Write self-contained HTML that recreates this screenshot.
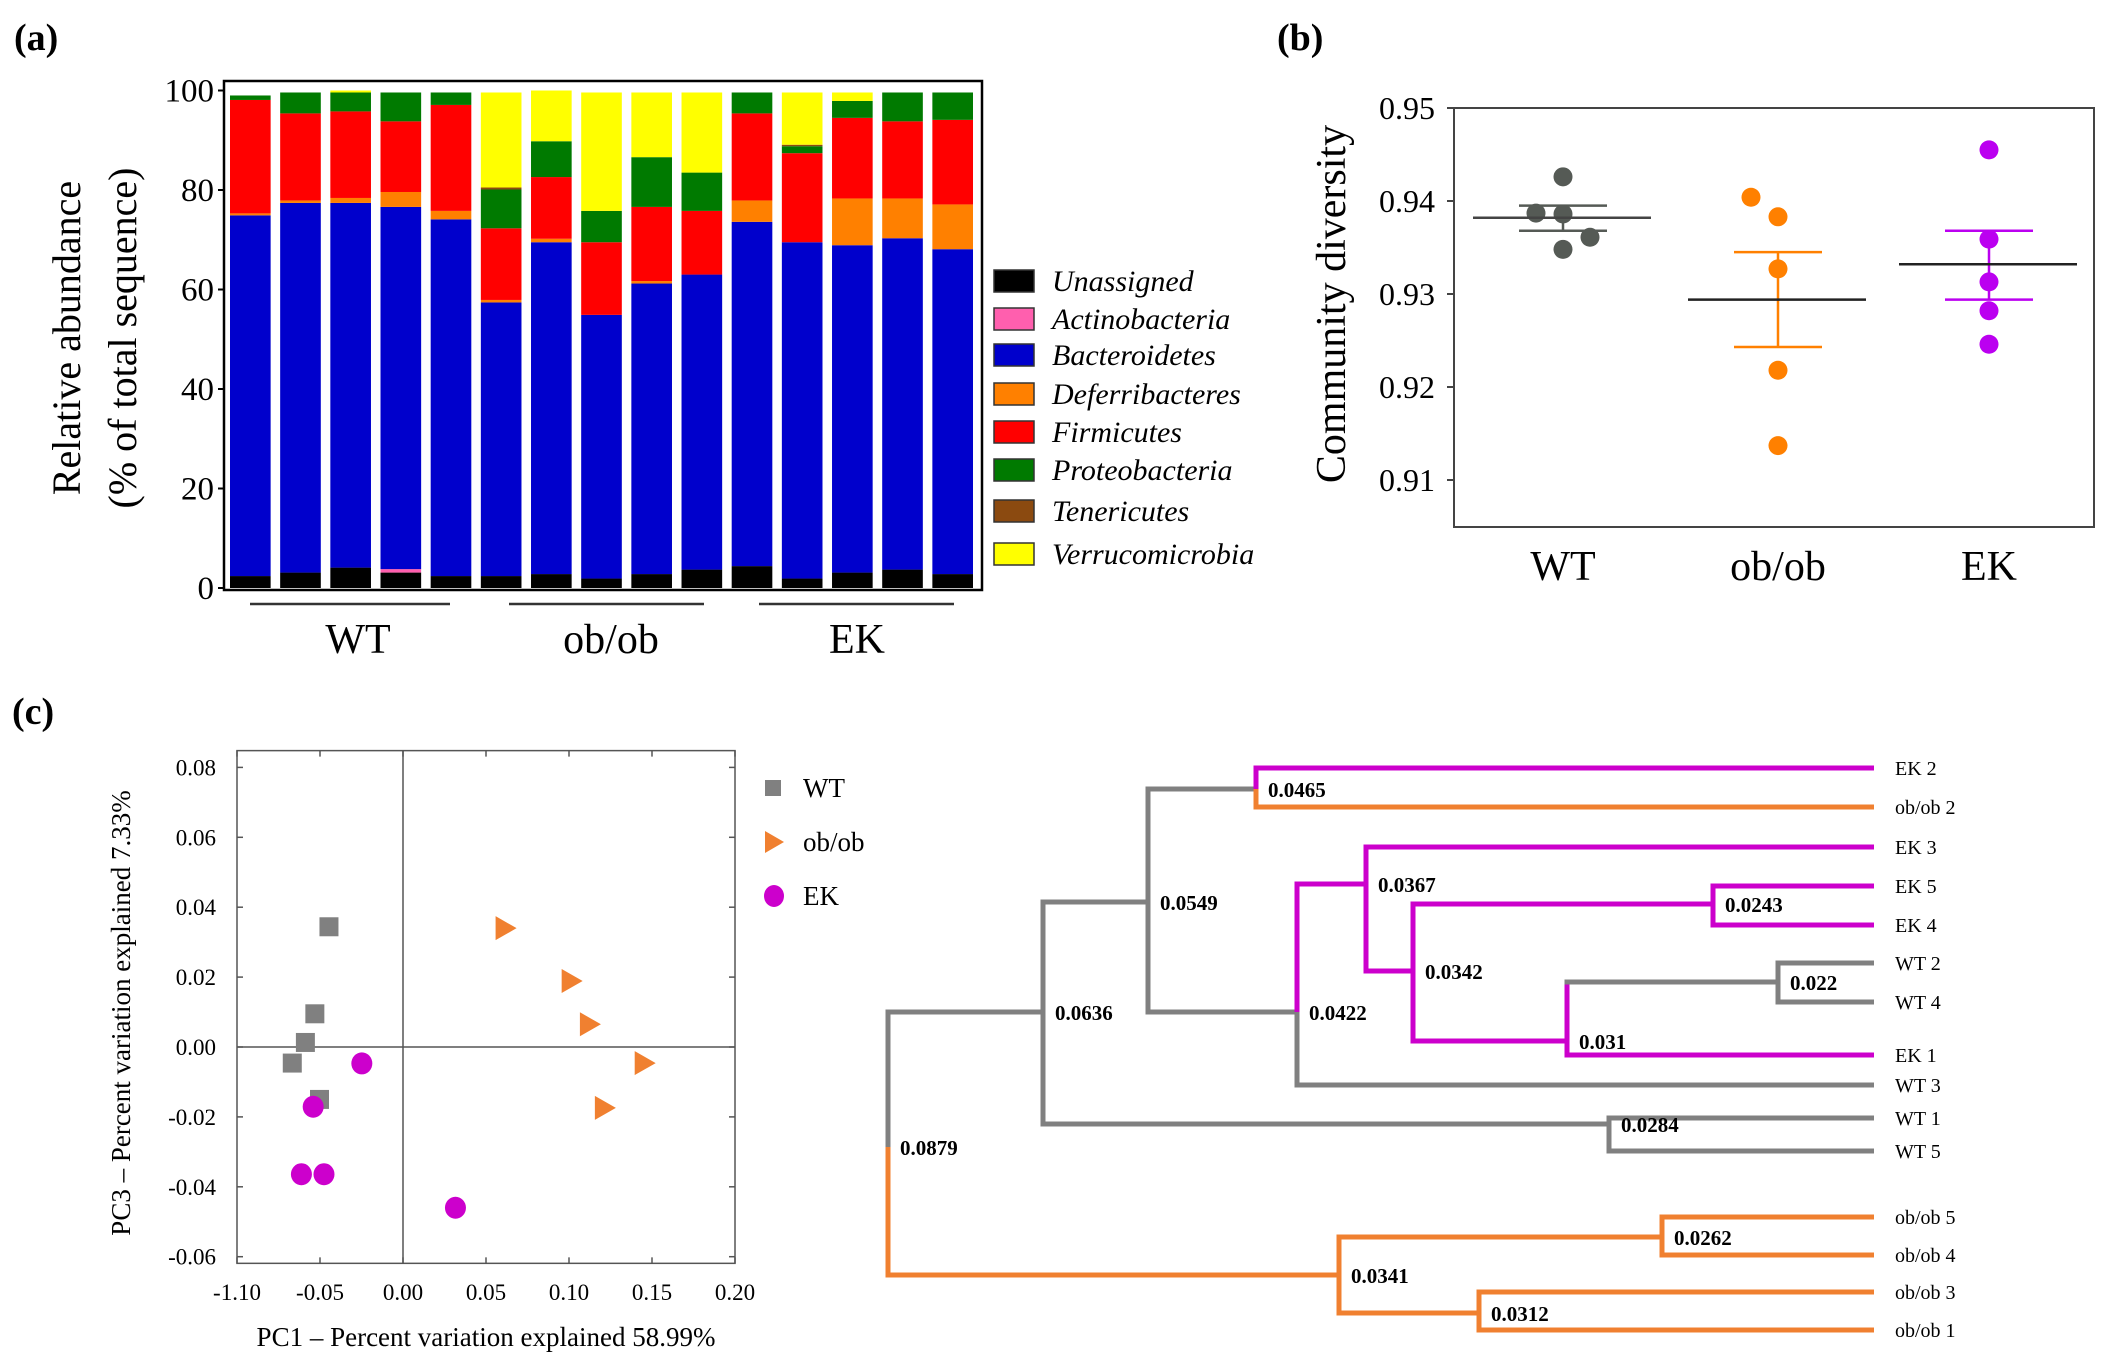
<!DOCTYPE html>
<html><head><meta charset="utf-8"><style>
html,body{margin:0;padding:0;background:#fff;}
svg{display:block;font-family:"Liberation Serif","Times New Roman",serif;}
svg text{font-family:"Liberation Serif","Times New Roman",serif;}
</style></head><body>
<svg id="fig" width="2108" height="1369" viewBox="0 0 2108 1369" xmlns="http://www.w3.org/2000/svg" font-family="Liberation Serif, serif">
<rect width="2108" height="1369" fill="#fff"/>
<g id="pa"></g>
<g id="pb"></g>
<g id="pc"></g>
<g id="pd"></g>
</svg>
<script>
// ---------- Panel (a) data ----------
const barSamples = ["WT1","WT2","WT3","WT4","WT5","ob1","ob2","ob3","ob4","ob5","EK1","EK2","EK3","EK4","EK5"];
const phyla = ["Unassigned","Actinobacteria","Bacteroidetes","Deferribacteres","Firmicutes","Proteobacteria","Tenericutes","Verrucomicrobia"];
const phylaColors = ["#000000","#ff5fae","#0000cc","#ff8000","#ff0000","#007a00","#8b4a10","#ffff00"];
const unassigned =    [2.4,3.1,4.1,3.1,2.4, 2.4,2.8,1.9,2.8,3.7, 4.4,1.9,3.1,3.7,2.8];
const actinobacteria =[0,0,0,0.7,0, 0,0,0,0,0, 0,0,0,0,0];
const bacteroidetes = [72.5,74.3,73.3,72.8,71.7, 55.0,66.7,53.0,58.4,59.3, 69.2,67.6,65.8,66.6,65.3];
const deferribacteres=[0.4,0.5,1.0,3.0,1.7, 0.5,0.7,0,0.5,0, 4.3,0,9.4,8.0,9.0];
const firmicutes =    [22.8,17.5,17.4,14.2,21.3, 14.4,12.4,14.6,14.9,12.8, 17.5,17.9,16.2,15.5,17.0];
const proteobacteria =[0.9,4.2,3.8,5.8,2.5, 7.8,7.2,6.3,10.0,7.7, 4.2,1.4,3.4,5.8,5.5];
const tenericutes =   [0,0,0,0,0, 0.4,0,0,0,0, 0,0.3,0,0,0];
const verrucomicrobia=[0,0,0.4,0,0, 19.1,10.2,23.8,13.0,16.1, 0,10.5,1.7,0,0];
const yTicksA = [0,20,40,60,80,100];
// ---------- Panel (b) data ----------
const groups = ["WT","ob/ob","EK"];
const groupColors = ["#555a55","#ff8000","#bb00f0"];
const wtDiv = [0.9426,0.9387,0.9386,0.9361,0.9348];
const obDiv = [0.9404,0.9383,0.9327,0.9218,0.9137];
const ekDiv = [0.9455,0.9359,0.9313,0.9282,0.9246];
const wtDx = [0,-1,0,1,0];
const obDx = [-1,0,0,0,0];
const ekDx = [0,0,0,0,0];
const means = [0.9382,0.9294,0.9332];
const semHi = [0.9395,0.9345,0.9368];
const semLo = [0.9368,0.9243,0.9294];
const yTicksB = [0.91,0.92,0.93,0.94,0.95];
// ---------- Panel (c) PCA data ----------
const wtPC1 = [-0.0446,-0.0531,-0.0588,-0.0667,-0.0503];
const wtPC3 = [0.0344,0.0095,0.0013,-0.0046,-0.0150];
const obPC1 = [0.0612,0.101,0.112,0.145,0.121];
const obPC3 = [0.034,0.0189,0.0065,-0.0046,-0.0174];
const ekPC1 = [-0.0248,-0.0541,-0.0612,-0.0476,0.0316];
const ekPC3 = [-0.0047,-0.0171,-0.0364,-0.0364,-0.046];
const xTicksC = [-0.10,-0.05,0,0.05,0.10,0.15,0.20];
const xTickLabelsC = ["-1.10","-0.05","0.00","0.05","0.10","0.15","0.20"];
const yTicksC = [-0.06,-0.04,-0.02,0,0.02,0.04,0.06,0.08];

const NS="http://www.w3.org/2000/svg";
function mk(parent,tag,attrs,text){const e=document.createElementNS(NS,tag);for(const k in attrs)e.setAttribute(k,attrs[k]);if(tag==='text')e.setAttribute('font-family','Liberation Serif, serif');if(text!==undefined)e.textContent=text;parent.appendChild(e);return e;}

// ================= Panel A =================
(function(){
const g=document.getElementById('pa');
const L=224,R=982,T=81,B=590,y0=588,y100=90.5;
const ya=v=>y0-(v/100)*(y0-y100);
const series=[unassigned,actinobacteria,bacteroidetes,deferribacteres,firmicutes,proteobacteria,tenericutes,verrucomicrobia];
const n=barSamples.length,innerL=230,innerR=973;
const pitch=(innerR-innerL)/(n-0.19),bw=pitch*0.81;
const xa=i=>innerL+i*pitch;
let t=mk(g,'text',{x:14,y:50,'font-size':38,'font-weight':'bold'},'(a)');

for(let i=0;i<n;i++){
  let cum=0;
  for(let s=0;s<series.length;s++){
    const v=series[s][i]; if(v<=0){continue;}
    const r=mk(g,'rect',{x:xa(i),y:ya(cum+v),width:bw,height:ya(cum)-ya(cum+v),fill:phylaColors[s]});
    
    
    cum+=v;
  }
}
const fr=mk(g,'rect',{x:L,y:T,width:R-L,height:B-T,fill:'none',stroke:'#000','stroke-width':2.5});

yTicksA.forEach(v=>{
  const tl=mk(g,'text',{x:214,y:ya(v)+11,'font-size':33,'text-anchor':'end'},String(v));
  
  mk(g,'line',{x1:L-6,x2:L,y1:ya(v),y2:ya(v),stroke:'#000','stroke-width':2});
});
const yt=mk(g,'text',{transform:'translate(80,338) rotate(-90)','font-size':40,'text-anchor':'middle'},'Relative abundance');

const yt2=mk(g,'text',{transform:'translate(136,338) rotate(-90)','font-size':40,'text-anchor':'middle'},'(% of total sequence)');

const grp=[[250,450,358,'WT'],[509,704,611,'ob/ob'],[759,954,857,'EK']];
grp.forEach(q=>{
  const ln=mk(g,'line',{x1:q[0],x2:q[1],y1:604,y2:604,stroke:'#333','stroke-width':2.5});
  
  const gl=mk(g,'text',{x:q[2],y:653,'font-size':42,'text-anchor':'middle'},q[3]);
  
});
const ly=[281,319,355,394,432,470,511,554];
phyla.forEach((p,i)=>{
  const lg=mk(g,'g',{});
  
  mk(lg,'rect',{x:994,y:ly[i]-11,width:40,height:22,fill:phylaColors[i],stroke:'#333','stroke-width':1.5});
  mk(lg,'text',{x:1052,y:ly[i]+10,'font-size':30,'font-style':'italic'},p);
});
})();

// ================= Panel B =================
(function(){
const g=document.getElementById('pb');
const L=1454,R=2094,T=108,B=527;
const yb=v=>108+(0.95-v)/0.01*93;
let t=mk(g,'text',{x:1277,y:50,'font-size':38,'font-weight':'bold'},'(b)');

const fr=mk(g,'rect',{x:L,y:T,width:R-L,height:B-T,fill:'none',stroke:'#444','stroke-width':2});

yTicksB.forEach(v=>{
  const tl=mk(g,'text',{x:1435,y:yb(v)+11,'font-size':32,'text-anchor':'end'},v.toFixed(2));
  
  mk(g,'line',{x1:L-7,x2:L,y1:yb(v),y2:yb(v),stroke:'#444','stroke-width':2});
});
const yt=mk(g,'text',{transform:'translate(1345,304) rotate(-90)','font-size':42,'text-anchor':'middle'},'Community diversity');

const cx=[1563,1778,1989];
const data=[wtDiv,obDiv,ekDiv],dxs=[wtDx,obDx,ekDx];
groups.forEach((gr,i)=>{
  const xl=mk(g,'text',{x:cx[i],y:580,'font-size':42,'text-anchor':'middle'},gr);
  
  const c=groupColors[i];
  const v=mk(g,'line',{x1:cx[i],x2:cx[i],y1:yb(semHi[i]),y2:yb(semLo[i]),stroke:c,'stroke-width':2.5});
  
  [semHi[i],semLo[i]].forEach(s=>{
    const cap=mk(g,'line',{x1:cx[i]-44,x2:cx[i]+44,y1:yb(s),y2:yb(s),stroke:c,'stroke-width':2.5});
    
  });
  data[i].forEach((d,k)=>{
    const p=mk(g,'circle',{cx:cx[i]+dxs[i][k]*27,cy:yb(d),r:9.5,fill:c});
    
  });
  const m=mk(g,'line',{x1:cx[i]-90,x2:cx[i]+88,y1:yb(means[i]),y2:yb(means[i]),stroke:i==0?'#444':'#222','stroke-width':2.5});
  
});
})();

// ================= Panel C PCA =================
(function(){
const g=document.getElementById('pc');
const xc=v=>403+v/0.05*83;
const yc=v=>1047-v/0.02*69.9;
const L=xc(-0.10),R=xc(0.20),T=yc(0.0848),B=yc(-0.0619);
let t=mk(g,'text',{x:12,y:724,'font-size':38,'font-weight':'bold'},'(c)');

const fr=mk(g,'rect',{x:L,y:T,width:R-L,height:B-T,fill:'none',stroke:'#555','stroke-width':1.5});

mk(g,'line',{x1:xc(0),x2:xc(0),y1:T,y2:B,stroke:'#555','stroke-width':1.5});
mk(g,'line',{x1:L,x2:R,y1:yc(0),y2:yc(0),stroke:'#555','stroke-width':1.5});
xTicksC.forEach((v,i)=>{
  mk(g,'line',{x1:xc(v),x2:xc(v),y1:T,y2:T+6,stroke:'#555','stroke-width':1.5});
  mk(g,'line',{x1:xc(v),x2:xc(v),y1:B,y2:B-6,stroke:'#555','stroke-width':1.5});
  const tl=mk(g,'text',{x:xc(v),y:1300,'font-size':23,'text-anchor':'middle'},xTickLabelsC[i]);
  
});
yTicksC.forEach(v=>{
  mk(g,'line',{x1:L,x2:L+6,y1:yc(v),y2:yc(v),stroke:'#555','stroke-width':1.5});
  mk(g,'line',{x1:R,x2:R-6,y1:yc(v),y2:yc(v),stroke:'#555','stroke-width':1.5});
  const tl=mk(g,'text',{x:216,y:yc(v)+8,'font-size':23,'text-anchor':'end'},v.toFixed(2));
  
});
const xt=mk(g,'text',{x:486,y:1346,'font-size':27,'text-anchor':'middle'},'PC1 – Percent variation explained 58.99%');

const yt=mk(g,'text',{transform:'translate(130,1013) rotate(-90)','font-size':27,'text-anchor':'middle'},'PC3 – Percent variation explained 7.33%');

wtPC1.forEach((x,i)=>{
  const s=mk(g,'rect',{x:xc(x)-9.5,y:yc(wtPC3[i])-9.5,width:19,height:19,fill:'#808080'});
  
});
obPC1.forEach((x,i)=>{
  const X=xc(x),Y=yc(obPC3[i]);
  const p=mk(g,'polygon',{points:`${X-9},${Y-12} ${X+12},${Y} ${X-9},${Y+12}`,fill:'#f08030'});
  
});
ekPC1.forEach((x,i)=>{
  const c=mk(g,'ellipse',{cx:xc(x),cy:yc(ekPC3[i]),rx:10.5,ry:11,fill:'#cc00cc'});
  
});
const lg=[[788,'WT'],[842,'ob/ob'],[896,'EK']];
lg.forEach((q,i)=>{
  const e=mk(g,'g',{});
  
  if(i==0)mk(e,'rect',{x:765,y:q[0]-8,width:16,height:16,fill:'#808080'});
  if(i==1)mk(e,'polygon',{points:`765,${q[0]-11} 784,${q[0]} 765,${q[0]+11}`,fill:'#f08030'});
  if(i==2)mk(e,'ellipse',{cx:774,cy:q[0],rx:10,ry:11,fill:'#cc00cc'});
  mk(e,'text',{x:803,y:q[0]+9,'font-size':27},q[1]);
});
})();

// ================= Dendrogram =================
const GRAY="#808080",PUR="#cc00cc",ORA="#f08030";
const leafNames=["EK 2","ob/ob 2","EK 3","EK 5","EK 4","WT 2","WT 4","EK 1","WT 3","WT 1","WT 5","ob/ob 5","ob/ob 4","ob/ob 3","ob/ob 1"];
const leafY=[768,807,847,886,925,963,1002,1055,1085,1118,1151,1217,1255,1292,1330];
const leafColor=[PUR,ORA,PUR,PUR,PUR,GRAY,GRAY,PUR,GRAY,GRAY,GRAY,ORA,ORA,ORA,ORA];
const nodeIds=["root","A","B","C","D","E","F","G","H","I","W15","O","J","K"];
const nodeHeights=["0.0879","0.0636","0.0549","0.0465","0.0422","0.0367","0.0342","0.0243","0.031","0.022","0.0284","0.0341","0.0262","0.0312"];
const nodeX=[888,1043,1148,1256,1297,1366,1413,1713,1567,1778,1609,1339,1662,1479];
const nodeY=[1147,1012,902,789,1012,884,971,904,1041,982,1124,1275,1237,1313];
const nodeColor=[GRAY,GRAY,GRAY,GRAY,GRAY,PUR,PUR,PUR,PUR,GRAY,GRAY,ORA,ORA,ORA];
const nodeChildren={root:["A","O"],A:["B","W15"],B:["C","D"],C:["L0","L1"],D:["E","L8"],E:["L2","F"],F:["G","H"],G:["L3","L4"],H:["I","L7"],I:["L5","L6"],W15:["L9","L10"],O:["J","K"],J:["L11","L12"],K:["L13","L14"]};
(function(){
const g=document.getElementById('pd');
const LEAFX=1874;
function info(id){
  if(id[0]==='L'){const i=+id.slice(1);return {x:LEAFX,y:leafY[i],c:leafColor[i]};}
  const i=nodeIds.indexOf(id);return {x:nodeX[i],y:nodeY[i],c:nodeColor[i]};
}
nodeIds.forEach((id,ni)=>{
  const p=info(id);
  let py=p.y;
  nodeChildren[id].forEach(ch=>{
    const c=info(ch);
    let col=c.c;
    if(id==='H')col=PUR;
    const v=mk(g,'line',{x1:p.x,x2:p.x,y1:py,y2:c.y,stroke:col,'stroke-width':5});
    
    const h=mk(g,'line',{x1:p.x-2.5,x2:c.x,y1:c.y,y2:c.y,stroke:c.c,'stroke-width':5});
    
  });
  const lbl=mk(g,'text',{x:p.x+12,y:p.y+8,'font-size':21,'font-weight':'bold'},nodeHeights[ni]);
  
});
leafNames.forEach((n,i)=>{
  const t=mk(g,'text',{x:1895,y:leafY[i]+7,'font-size':20},n);
  
});
})();
</script>
</body></html>
